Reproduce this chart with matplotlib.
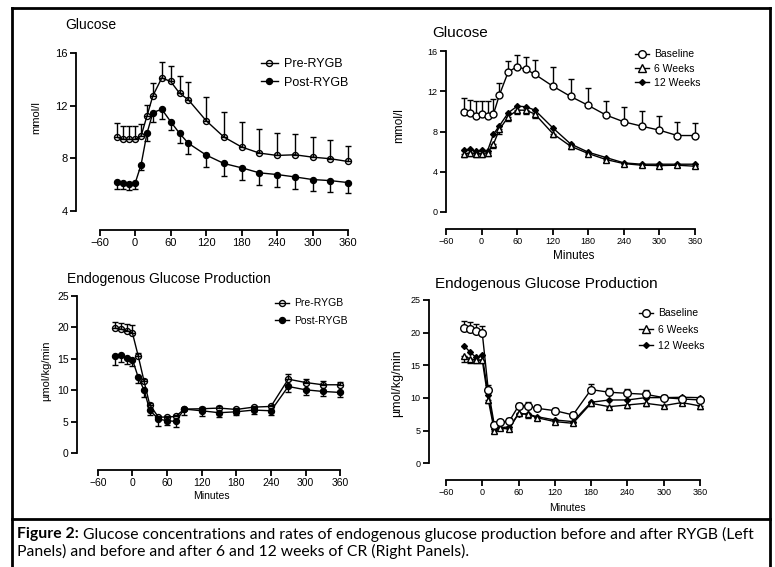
import numpy as np
import matplotlib
matplotlib.use("Agg")
import matplotlib.pyplot as plt
from matplotlib.lines import Line2D

plt.rcParams['font.family'] = ['Liberation Sans', 'DejaVu Sans']

W, H = 775, 567

# time points (minutes)
minutes = [-30, -20, -10, 0, 10, 20, 30, 45, 60, 75, 90, 120, 150, 180, 210, 240, 270, 300, 330, 360]

# top-left: glucose before/after RYGB (mmol/l)
pre_glu = [9.59, 9.44, 9.44, 9.44, 9.69, 11.22, 12.75, 14.1, 13.84, 12.95, 12.44, 10.86, 9.62, 8.86, 8.4, 8.22, 8.27, 8.09, 7.97, 7.76]
pre_glu_err = [1.07, 1.0, 1.0, 1.0, 0.9, 0.84, 0.96, 1.2, 1.2, 1.27, 1.37, 1.8, 1.9, 1.9, 1.85, 1.7, 1.6, 1.5, 1.4, 1.2]
post_glu = [6.19, 6.11, 6.06, 6.11, 7.51, 9.9, 11.47, 11.73, 10.79, 9.9, 9.14, 8.25, 7.61, 7.28, 6.9, 6.77, 6.59, 6.39, 6.31, 6.16]
post_glu_err = [0.5, 0.45, 0.45, 0.45, 0.4, 0.55, 0.7, 0.76, 0.64, 0.76, 0.82, 0.9, 0.97, 0.94, 0.94, 0.94, 0.89, 0.84, 0.84, 0.79]

# top-right: glucose baseline / 6 / 12 weeks CR (mmol/l)
base_glu = [9.96, 9.79, 9.56, 9.73, 9.56, 9.73, 11.62, 13.94, 14.44, 14.17, 13.68, 12.51, 11.49, 10.59, 9.63, 8.96, 8.53, 8.13, 7.6, 7.6]
base_glu_err = [1.33, 1.33, 1.43, 1.32, 1.46, 1.46, 1.23, 1.06, 1.16, 1.27, 1.42, 1.93, 1.72, 1.73, 1.42, 1.5, 1.53, 1.43, 1.36, 1.26]
w6_glu = [5.74, 5.88, 5.81, 5.81, 5.88, 6.74, 8.2, 9.46, 10.12, 10.12, 9.73, 7.8, 6.54, 5.81, 5.21, 4.81, 4.65, 4.61, 4.65, 4.55]
w6_glu_err = [0.3, 0.3, 0.3, 0.3, 0.3, 0.35, 0.4, 0.4, 0.4, 0.4, 0.35, 0.35, 0.3, 0.25, 0.2, 0.2, 0.2, 0.2, 0.2, 0.2]
w12_glu = [6.14, 6.24, 6.04, 6.14, 6.07, 7.73, 8.56, 9.86, 10.52, 10.46, 10.12, 8.37, 6.77, 5.94, 5.41, 4.88, 4.75, 4.75, 4.75, 4.75]

# bottom-left: endogenous glucose production before/after RYGB (umol/kg/min)
pre_egp = [19.82, 19.66, 19.45, 19.08, 15.43, 11.47, 7.66, 5.71, 5.71, 5.81, 6.98, 7.03, 7.14, 6.92, 7.29, 7.4, 11.73, 11.2, 10.84, 10.84]
pre_egp_err = [1.0, 1.05, 1.1, 1.27, 0.4, 0.3, 0.25, 0.2, 0.2, 0.2, 0.2, 0.2, 0.25, 0.2, 0.25, 0.25, 0.8, 0.5, 0.55, 0.4]
post_egp = [15.38, 15.59, 15.17, 14.85, 12.05, 10.04, 6.82, 5.39, 5.13, 5.02, 6.98, 6.71, 6.4, 6.55, 6.82, 6.71, 10.57, 10.04, 9.78, 9.62]
post_egp_err = [1.4, 1.1, 1.0, 1.1, 0.95, 1.2, 0.85, 1.16, 0.64, 0.84, 0.9, 0.9, 0.74, 0.58, 0.64, 0.63, 0.8, 0.8, 0.8, 0.74]

# bottom-right: endogenous glucose production baseline / 6 / 12 weeks CR
base_egp = [20.66, 20.51, 20.31, 20.0, 11.22, 5.87, 6.28, 6.48, 8.78, 8.83, 8.42, 8.06, 7.4, 11.28, 10.87, 10.71, 10.56, 10.05, 9.85, 9.69]
base_egp_err = [1.1, 1.05, 0.95, 1.07, 0.7, 0.5, 0.36, 0.4, 0.5, 0.6, 0.5, 0.45, 0.5, 0.8, 0.7, 0.66, 0.6, 0.4, 0.35, 0.3]
w6_egp = [16.48, 15.97, 15.82, 15.82, 9.69, 5.0, 5.36, 5.26, 7.65, 7.5, 6.99, 6.38, 6.12, 9.18, 8.67, 8.93, 9.18, 8.83, 9.29, 8.78]
w6_egp_err = [0.9, 0.6, 0.5, 0.5, 0.5, 0.3, 0.3, 0.3, 0.4, 0.5, 0.4, 0.3, 0.3, 0.4, 0.4, 0.4, 0.4, 0.4, 0.4, 0.4]
w12_egp = [18.01, 16.99, 16.2, 16.5, 10.46, 5.26, 5.46, 5.56, 7.55, 7.55, 7.14, 6.63, 6.38, 9.34, 9.69, 9.69, 10.05, 10.05, 10.1, 10.05]

x_ticks = [-60, 0, 60, 120, 180, 240, 300, 360]


def px_axes(x0, y0, x1, y1):
    # pixel box (from top-left) -> figure fraction
    return [x0 / W, 1 - y1 / H, (x1 - x0) / W, (y1 - y0) / H]


def style_axis(ax, xlim, ylim, yticks, tick_size):
    ax.set_xlim(*xlim)
    ax.set_ylim(*ylim)
    for s in ['top', 'right']:
        ax.spines[s].set_visible(False)
    ax.spines['left'].set_bounds(yticks[0], yticks[-1])
    ax.spines['bottom'].set_bounds(-60, 360)
    for s in ['left', 'bottom']:
        ax.spines[s].set_linewidth(1.3)
    ax.set_xticks(x_ticks)
    ax.set_yticks(yticks)
    ax.tick_params(length=4, width=1.3, labelsize=tick_size, pad=2)


def up(err):
    return [np.zeros(len(err)), err]


def down(err):
    return [err, np.zeros(len(err))]


def series(ax, y, err, marker, ms, fill, upper=True, z=3):
    kw = dict(color='black', lw=1.0, marker=marker, ms=ms, mew=1.0,
              mfc=fill, mec='black', elinewidth=1.0, capsize=2.5, capthick=1.0, zorder=z)
    if err is None:
        ax.plot(minutes, y, '-', color='black', lw=1.0, marker=marker, ms=ms,
                mfc=fill, mec='black', mew=1.0, zorder=z)
    else:
        ax.errorbar(minutes, y, yerr=up(err) if upper else down(err), **kw)


fig = plt.figure(figsize=(W / 100, H / 100), dpi=100)

# ---- top left
ax1 = fig.add_axes(px_axes(76, 49, 354, 230))
series(ax1, pre_glu, pre_glu_err, 'o', 4.3, 'none', True, 4)
series(ax1, post_glu, post_glu_err, 'o', 4.3, 'black', False, 3)
style_axis(ax1, (-100, 370), (2.56, 16.3), [4, 8, 12, 16], 8)
ax1.set_ylabel('mmol/l', fontsize=8)
ax1.yaxis.set_label_coords(-0.125, 0.62)
fig.text(65 / W, 1 - 25 / H, 'Glucose', fontsize=10, va='center')
h1 = [Line2D([], [], color='black', lw=1.0, marker='o', ms=4.3, mfc='none', mec='black'),
      Line2D([], [], color='black', lw=1.0, marker='o', ms=4.3, mfc='black', mec='black')]
fig.legend(h1, ['Pre-RYGB', 'Post-RYGB'], loc='upper left', bbox_to_anchor=(250 / W, 1 - 47 / H),
           frameon=False, fontsize=9, handlelength=1.3, handletextpad=0.5, labelspacing=0.5)

# ---- top right
ax2 = fig.add_axes(px_axes(446, 48, 701, 229))
series(ax2, w12_glu, None, 'D', 3, 'black', z=3)
series(ax2, w6_glu, w6_glu_err, '^', 5, 'white', False, 4)
series(ax2, base_glu, base_glu_err, 'o', 5, 'white', True, 5)
style_axis(ax2, (-60, 370), (-1.69, 16.3), [0, 4, 8, 12, 16], 6.5)
ax2.set_ylabel('mmol/l', fontsize=8.5)
ax2.yaxis.set_label_coords(-0.16, 0.57)
ax2.set_xlabel('Minutes', fontsize=8.5, labelpad=3)
fig.text(432 / W, 1 - 33 / H, 'Glucose', fontsize=11, va='center')
h2 = [Line2D([], [], color='black', lw=1.0, marker='o', ms=5.5, mfc='white', mec='black'),
      Line2D([], [], color='black', lw=1.0, marker='^', ms=5.5, mfc='white', mec='black'),
      Line2D([], [], color='black', lw=1.0, marker='D', ms=3, mfc='black', mec='black')]
fig.legend(h2, ['Baseline', '6 Weeks', '12 Weeks'], loc='upper left', bbox_to_anchor=(626 / W, 1 - 40 / H),
           frameon=False, fontsize=7.5, handlelength=1.3, handletextpad=0.5, labelspacing=0.4)

# ---- bottom left
ax3 = fig.add_axes(px_axes(77, 292.5, 346, 470))
series(ax3, pre_egp, pre_egp_err, 'o', 4.3, 'none', True, 4)
series(ax3, post_egp, post_egp_err, 'o', 4.3, 'black', False, 3)
style_axis(ax3, (-96, 370), (-2.7, 25.5), [0, 5, 10, 15, 20, 25], 7.5)
ax3.set_ylabel('µmol/kg/min', fontsize=8)
ax3.yaxis.set_label_coords(-0.095, 0.56)
ax3.set_xlabel('Minutes', fontsize=7.5, labelpad=2)
fig.text(67 / W, 1 - 279 / H, 'Endogenous Glucose Production', fontsize=10, va='center')
fig.legend(h1, ['Pre-RYGB', 'Post-RYGB'], loc='upper left', bbox_to_anchor=(266 / W, 1 - 289 / H),
           frameon=False, fontsize=7.5, handlelength=1.3, handletextpad=0.5, labelspacing=0.7)

# ---- bottom right
ax4 = fig.add_axes(px_axes(429, 296.7, 706, 480))
series(ax4, w12_egp, None, 'D', 3, 'black', z=3)
series(ax4, w6_egp, w6_egp_err, '^', 5, 'white', False, 4)
series(ax4, base_egp, base_egp_err, 'o', 5.5, 'white', True, 5)
style_axis(ax4, (-88, 370), (-2.56, 25.5), [0, 5, 10, 15, 20, 25], 6.5)
ax4.set_ylabel('µmol/kg/min', fontsize=9)
ax4.yaxis.set_label_coords(-0.095, 0.53)
ax4.set_xlabel('Minutes', fontsize=7.5, labelpad=4)
fig.text(435 / W, 1 - 284 / H, 'Endogenous Glucose Production', fontsize=11, va='center')
fig.legend(h2, ['Baseline', '6 Weeks', '12 Weeks'], loc='upper left', bbox_to_anchor=(630 / W, 1 - 299 / H),
           frameon=False, fontsize=7.5, handlelength=1.3, handletextpad=0.5, labelspacing=0.6)

# ---- frame and caption
def fline(x0, y0, x1, y1, lw=2):
    fig.add_artist(Line2D([x0 / W, x1 / W], [1 - y0 / H, 1 - y1 / H], color='black', lw=lw,
                          transform=fig.transFigure))

fline(12, 8, 770, 8)
fline(12, 8, 12, 567)
fline(770, 8, 770, 567)
fline(12, 519, 770, 519)

cap_font = ['Lato', 'DejaVu Sans']
bold = fig.text(17 / W, 1 - 534 / H, 'Figure 2:', fontsize=11.35, fontweight='bold',
                family=cap_font, va='center')
fig.canvas.draw()
bb = bold.get_window_extent()
fig.text((bb.x1 + 4) / W, 1 - 534 / H,
         'Glucose concentrations and rates of endogenous glucose production before and after RYGB (Left',
         fontsize=11.35, family=cap_font, va='center')
fig.text(17 / W, 1 - 551 / H, 'Panels) and before and after 6 and 12 weeks of CR (Right Panels).',
         fontsize=11.35, family=cap_font, va='center')

fig.savefig('out.png', dpi=100)
